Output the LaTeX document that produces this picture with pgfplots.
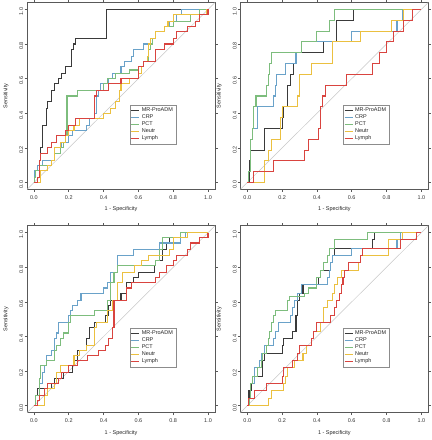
\documentclass[border=0pt]{standalone}
\usepackage{fontspec}
\setmainfont{Liberation Sans}
\usepackage{pgfplots}
\pgfplotsset{compat=1.18}
\definecolor{cMR}{HTML}{3A3A3A}
\definecolor{cCRP}{HTML}{6AA2C9}
\definecolor{cPCT}{HTML}{7DBD7D}
\definecolor{cNeu}{HTML}{EBC040}
\definecolor{cLym}{HTML}{D9443F}
\newcommand{\smallf}{\fontsize{5.5}{6}\selectfont}
\pgfplotsset{
 rocax/.style={
  width=188bp, height=187bp, scale only axis,
  xmin=-0.04, xmax=1.04, ymin=-0.04, ymax=1.04,
  xtick={0,0.2,0.4,0.6,0.8,1}, ytick={0,0.2,0.4,0.6,0.8,1},
  xticklabels={0.0,0.2,0.4,0.6,0.8,1.0},
  yticklabels={0.0,0.2,0.4,0.6,0.8,1.0},
  tick align=outside, major tick length=2.5bp,
  axis line style={black!65, line width=0.6bp},
  every tick/.style={black!65, line width=0.6bp},
  tick label style={font=\smallf, text=black!80},
  xticklabel style={inner sep=1bp, yshift=-2bp},
  yticklabel style={rotate=90, anchor=south, inner sep=1bp, xshift=-2bp},
  label style={font=\smallf, text=black!85},
  xlabel={1 - Specificity}, ylabel={Sensitivity},
  xlabel style={at={(axis description cs:0.5,-0.107)}, anchor=center},
  ylabel style={at={(axis description cs:-0.112,0.5)}, anchor=center},
  legend style={at={(axis cs:0.55,0.45)}, anchor=north west, draw=black!45,
    font=\smallf, inner sep=1bp, row sep=-2.4bp, line width=0.4bp,
    text=black!85},
  legend cell align=left,
  legend image code/.code={\draw[#1, line width=0.9bp] (0bp,0bp) -- (8bp,0bp);},
 },
 roc/.style={const plot mark left, line width=1.1bp, mark=none},
}
\begin{document}
\begin{tikzpicture}[x=1bp,y=1bp]
\useasboundingbox (0,0) rectangle (431,440);
% Panel 1
\begin{axis}[rocax, at={(27bp,250.5bp)}, anchor=south west]
\addplot[black!22, line width=0.5bp, forget plot] coordinates {(-0.04,-0.04)(1.04,1.04)};
\addplot[roc, color=cMR] coordinates {(0,0)(0.005,0.03)(0.01,0.07)(0.03,0.13)(0.04,0.2)(0.05,0.33)(0.07,0.43)(0.08,0.47)(0.1,0.53)(0.12,0.57)(0.14,0.6)(0.16,0.63)(0.18,0.67)(0.217,0.77)(0.225,0.8)(0.24,0.83)(0.418,1)(1,1)};
\addplot[roc, color=cCRP] coordinates {(0,0)(0.005,0.07)(0.02,0.1)(0.05,0.13)(0.12,0.2)(0.16,0.23)(0.2,0.27)(0.22,0.3)(0.3,0.33)(0.32,0.37)(0.35,0.4)(0.36,0.5)(0.37,0.53)(0.38,0.57)(0.43,0.6)(0.45,0.63)(0.5,0.67)(0.52,0.7)(0.56,0.73)(0.57,0.77)(0.63,0.8)(0.67,0.83)(0.7,0.87)(0.75,0.9)(0.78,0.93)(0.82,0.97)(0.85,1)(1,1)};
\addplot[roc, color=cPCT] coordinates {(0,0)(0.005,0.03)(0.01,0.07)(0.03,0.1)(0.1,0.13)(0.12,0.17)(0.15,0.2)(0.17,0.23)(0.18,0.27)(0.19,0.5)(0.25,0.53)(0.4,0.57)(0.42,0.6)(0.47,0.63)(0.55,0.65)(0.6,0.67)(0.63,0.7)(0.66,0.77)(0.67,0.8)(0.68,0.83)(0.7,0.87)(0.75,0.9)(0.8,0.93)(0.9,0.97)(0.95,1)(1,1)};
\addplot[roc, color=cNeu] coordinates {(0,0)(0.04,0.07)(0.08,0.1)(0.1,0.13)(0.12,0.2)(0.15,0.23)(0.18,0.27)(0.2,0.3)(0.23,0.33)(0.26,0.37)(0.4,0.4)(0.44,0.43)(0.47,0.47)(0.49,0.53)(0.5,0.57)(0.55,0.6)(0.6,0.63)(0.62,0.67)(0.63,0.7)(0.65,0.73)(0.66,0.8)(0.67,0.83)(0.7,0.87)(0.75,0.9)(0.77,0.93)(0.8,0.97)(0.99,1)(1,1)};
\addplot[roc, color=cLym] coordinates {(0,0)(0.02,0.03)(0.03,0.13)(0.04,0.17)(0.08,0.2)(0.1,0.23)(0.13,0.27)(0.18,0.3)(0.2,0.33)(0.24,0.37)(0.35,0.5)(0.36,0.53)(0.43,0.57)(0.5,0.6)(0.6,0.67)(0.63,0.7)(0.7,0.77)(0.75,0.8)(0.8,0.83)(0.82,0.87)(0.88,0.9)(0.93,0.93)(0.95,0.97)(1,1)};
\legend{MR-ProADM,CRP,PCT,Neutr,Lymph}
\end{axis}
% Panel 2
\begin{axis}[rocax, at={(240.3bp,250.5bp)}, anchor=south west]
\addplot[black!22, line width=0.5bp, forget plot] coordinates {(-0.04,-0.04)(1.04,1.04)};
\addplot[roc, color=cMR] coordinates {(0,0)(0.01,0.0625)(0.015,0.125)(0.02,0.1875)(0.1,0.3125)(0.2,0.375)(0.21,0.4375)(0.23,0.5625)(0.25,0.625)(0.265,0.6875)(0.28,0.75)(0.44,0.8125)(0.515,0.9375)(0.61,1)(1,1)};
\addplot[roc, color=cCRP] coordinates {(0,0)(0.005,0.0625)(0.02,0.25)(0.03,0.3125)(0.06,0.4375)(0.15,0.5)(0.16,0.5625)(0.17,0.625)(0.22,0.6875)(0.28,0.75)(0.31,0.8125)(0.6,0.875)(0.86,0.9375)(0.89,1)(1,1)};
\addplot[roc, color=cPCT] coordinates {(0,0)(0.005,0.0625)(0.02,0.25)(0.03,0.3125)(0.035,0.4375)(0.05,0.5)(0.11,0.5625)(0.12,0.625)(0.13,0.6875)(0.14,0.75)(0.31,0.8125)(0.4,0.875)(0.47,0.9375)(0.5,1)(1,1)};
\addplot[roc, color=cNeu] coordinates {(0,0)(0.1,0.125)(0.12,0.1875)(0.14,0.25)(0.19,0.375)(0.2,0.4375)(0.29,0.5)(0.3,0.625)(0.37,0.6875)(0.49,0.8125)(0.65,0.875)(0.83,0.9375)(0.9,1)(1,1)};
\addplot[roc, color=cLym] coordinates {(0,0)(0.035,0.0625)(0.15,0.125)(0.33,0.1875)(0.35,0.25)(0.41,0.3125)(0.42,0.4375)(0.43,0.5)(0.45,0.5625)(0.57,0.625)(0.72,0.6875)(0.76,0.75)(0.8,0.8125)(0.84,0.875)(0.9,0.9375)(0.95,1)(1,1)};
\legend{MR-ProADM,CRP,PCT,Neutr,Lymph}
\end{axis}
% Panel 3
\begin{axis}[rocax, at={(27bp,27.3bp)}, anchor=south west]
\addplot[black!22, line width=0.5bp, forget plot] coordinates {(-0.04,-0.04)(1.04,1.04)};
\addplot[roc, color=cMR] coordinates {(0,0)(0.01,0.06)(0.02,0.1)(0.1,0.13)(0.12,0.16)(0.17,0.19)(0.22,0.23)(0.23,0.26)(0.25,0.32)(0.3,0.39)(0.32,0.45)(0.35,0.48)(0.41,0.52)(0.43,0.58)(0.44,0.61)(0.5,0.65)(0.53,0.71)(0.57,0.74)(0.6,0.77)(0.69,0.81)(0.7,0.84)(0.74,0.9)(0.76,0.94)(0.78,0.97)(0.88,1)(1,1)};
\addplot[roc, color=cCRP] coordinates {(0,0)(0.01,0.06)(0.03,0.13)(0.05,0.19)(0.06,0.23)(0.07,0.29)(0.1,0.32)(0.12,0.39)(0.13,0.42)(0.14,0.48)(0.2,0.52)(0.21,0.55)(0.22,0.58)(0.25,0.61)(0.27,0.65)(0.4,0.68)(0.42,0.71)(0.44,0.77)(0.48,0.87)(0.57,0.9)(0.72,0.94)(0.84,0.97)(0.87,1)(1,1)};
\addplot[roc, color=cPCT] coordinates {(0,0)(0.01,0.06)(0.03,0.16)(0.04,0.23)(0.07,0.26)(0.12,0.32)(0.13,0.35)(0.15,0.39)(0.17,0.42)(0.2,0.48)(0.21,0.52)(0.35,0.55)(0.42,0.61)(0.44,0.71)(0.46,0.77)(0.48,0.81)(0.7,0.84)(0.72,0.9)(0.74,0.97)(0.84,1)(1,1)};
\addplot[roc, color=cNeu] coordinates {(0,0)(0.06,0.06)(0.08,0.1)(0.12,0.13)(0.13,0.19)(0.15,0.23)(0.23,0.29)(0.26,0.32)(0.3,0.35)(0.35,0.45)(0.36,0.48)(0.42,0.55)(0.45,0.61)(0.48,0.71)(0.51,0.77)(0.58,0.81)(0.62,0.84)(0.66,0.87)(0.78,0.9)(0.8,0.97)(0.88,1)(1,1)};
\addplot[roc, color=cLym] coordinates {(0,0)(0.02,0.03)(0.03,0.06)(0.06,0.1)(0.08,0.13)(0.14,0.16)(0.16,0.19)(0.2,0.23)(0.25,0.26)(0.31,0.29)(0.37,0.32)(0.41,0.35)(0.43,0.39)(0.45,0.45)(0.46,0.61)(0.53,0.68)(0.56,0.71)(0.7,0.74)(0.72,0.77)(0.76,0.81)(0.8,0.84)(0.82,0.87)(0.88,0.9)(0.9,0.94)(0.95,0.97)(1,1)};
\legend{MR-ProADM,CRP,PCT,Neutr,Lymph}
\end{axis}
% Panel 4
\begin{axis}[rocax, at={(240.3bp,27.3bp)}, anchor=south west]
\addplot[black!22, line width=0.5bp, forget plot] coordinates {(-0.04,-0.04)(1.04,1.04)};
\addplot[roc, color=cMR] coordinates {(0,0)(0.005,0.04)(0.01,0.09)(0.025,0.13)(0.03,0.17)(0.09,0.26)(0.1,0.3)(0.2,0.35)(0.21,0.39)(0.26,0.43)(0.28,0.52)(0.29,0.61)(0.3,0.65)(0.32,0.7)(0.41,0.74)(0.42,0.78)(0.48,0.83)(0.49,0.87)(0.5,0.91)(0.72,0.96)(0.73,1)(1,1)};
\addplot[roc, color=cCRP] coordinates {(0,0)(0.005,0.04)(0.02,0.13)(0.04,0.22)(0.07,0.26)(0.08,0.3)(0.1,0.35)(0.15,0.39)(0.16,0.43)(0.18,0.48)(0.25,0.52)(0.26,0.57)(0.27,0.61)(0.29,0.65)(0.31,0.7)(0.46,0.74)(0.47,0.78)(0.48,0.83)(0.49,0.87)(0.6,0.91)(0.86,0.96)(0.88,1)(1,1)};
\addplot[roc, color=cPCT] coordinates {(0,0)(0.01,0.04)(0.02,0.13)(0.03,0.17)(0.06,0.22)(0.08,0.26)(0.09,0.3)(0.11,0.35)(0.12,0.39)(0.13,0.43)(0.14,0.48)(0.15,0.52)(0.16,0.55)(0.23,0.61)(0.24,0.63)(0.33,0.65)(0.35,0.68)(0.4,0.74)(0.42,0.78)(0.44,0.83)(0.46,0.87)(0.47,0.91)(0.5,0.96)(0.69,1)(1,1)};
\addplot[roc, color=cNeu] coordinates {(0,0)(0.12,0.04)(0.14,0.09)(0.21,0.13)(0.22,0.17)(0.23,0.22)(0.27,0.26)(0.32,0.3)(0.34,0.35)(0.37,0.39)(0.38,0.43)(0.42,0.48)(0.44,0.57)(0.46,0.61)(0.49,0.65)(0.5,0.7)(0.52,0.74)(0.54,0.78)(0.64,0.83)(0.65,0.87)(0.81,0.96)(0.89,1)(1,1)};
\addplot[roc, color=cLym] coordinates {(0,0)(0.005,0.04)(0.04,0.09)(0.11,0.13)(0.2,0.17)(0.21,0.22)(0.26,0.26)(0.29,0.3)(0.3,0.35)(0.37,0.39)(0.38,0.43)(0.4,0.48)(0.48,0.52)(0.5,0.57)(0.51,0.61)(0.53,0.65)(0.54,0.7)(0.55,0.74)(0.56,0.78)(0.58,0.83)(0.65,0.87)(0.66,0.91)(0.88,0.96)(0.97,1)(1,1)};
\legend{MR-ProADM,CRP,PCT,Neutr,Lymph}
\end{axis}
\end{tikzpicture}
\end{document}
